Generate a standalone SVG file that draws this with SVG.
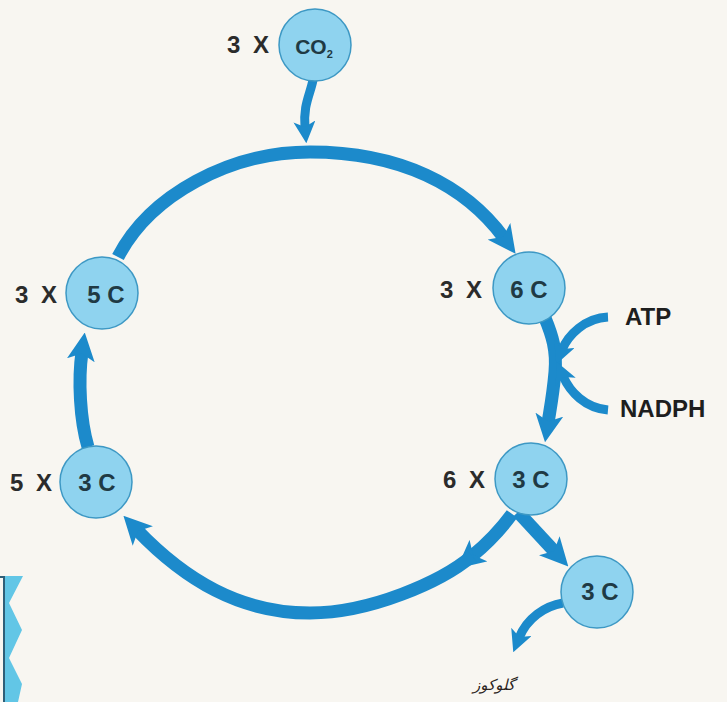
<svg xmlns="http://www.w3.org/2000/svg" width="727" height="702" viewBox="0 0 727 702">
<style>
.node{fill:#8fd3ef;stroke:#3d98c4;stroke-width:1.5}
.lbl{font-family:"Liberation Sans",Arial,sans-serif;font-weight:bold;font-size:24px;fill:#1f3a44;text-anchor:middle}
.mul{font-family:"Liberation Sans",Arial,sans-serif;font-weight:bold;font-size:24px;fill:#2b2b2b;letter-spacing:3px}
.side{font-family:"Liberation Sans",Arial,sans-serif;font-weight:bold;font-size:24px;fill:#1e1e1e}
.main{fill:none;stroke:#1c8acb;stroke-width:13}
.thin{fill:none;stroke:#1c8acb;stroke-width:9}
</style>
<defs>
<marker id="ah" viewBox="0 0 10 10" refX="3" refY="5" markerWidth="28" markerHeight="28" markerUnits="userSpaceOnUse" orient="auto">
<path d="M0,0 L10,5 L0,10 L2.5,5 z" fill="#1c8acb"/>
</marker>
<marker id="ahs" viewBox="0 0 10 10" refX="3" refY="5" markerWidth="22" markerHeight="22" markerUnits="userSpaceOnUse" orient="auto">
<path d="M0,0 L10,5 L0,10 L2.5,5 z" fill="#1c8acb"/>
</marker>
</defs>
<rect width="727" height="702" fill="#f8f6f1"/>
<g id="edge-fragment">
<polygon points="4,576 23,576 9,603 22,630 9,658 22,684 18,702 4,702" fill="#62c6e6"/>
<path d="M0,577 H4 V702" fill="none" stroke="#2f5f78" stroke-width="2"/>
</g>
<g id="connectors">
<path class="thin" d="M313 80 C310 95 303 105 305 128" marker-end="url(#ahs)"/>
<path class="main" d="M118 257 C150 195 230 152 310 152 C400 152 465 185 504 238" marker-end="url(#ah)"/>
<path class="main" d="M545 318 C552 335 557 350 555 372 C553 395 550 410 548 423" marker-end="url(#ah)"/>
<path class="thin" d="M608 317 C585 318 568 335 562 350" marker-end="url(#ahs)"/>
<path class="thin" d="M608 410 C585 408 570 392 563 376" marker-end="url(#ahs)"/>
<path class="main" d="M518 512 L555 552" marker-end="url(#ah)"/>
<path class="main" d="M512 514 Q495 537 472 556" marker-end="url(#ah)"/>
<path class="main" d="M472 556 C441 582 370 613 310 613 C240 613 185 580 137 530" marker-end="url(#ah)"/>
<path class="main" d="M88 447 C80 420 78 380 82 352" marker-end="url(#ah)"/>
<path class="thin" d="M563 603 C545 606 527 618 519 638" marker-end="url(#ahs)"/>
</g>
<g id="node-co2">
<circle class="node" cx="315" cy="45" r="36"/>
<text class="mul" x="227" y="53">3 X</text>
<text class="lbl" x="314" y="54" style="font-size:21px">CO<tspan style="font-size:11px" dy="4">2</tspan></text>
</g>
<g id="node-6c">
<circle class="node" cx="529" cy="288" r="36"/>
<text class="mul" x="440" y="298">3 X</text>
<text class="lbl" x="529" y="298">6 C</text>
</g>
<g id="node-5c">
<circle class="node" cx="102" cy="293" r="36"/>
<text class="mul" x="15" y="303">3 X</text>
<text class="lbl" x="106" y="303">5 C</text>
</g>
<g id="node-3c-right">
<circle class="node" cx="531" cy="479" r="36"/>
<text class="mul" x="443" y="488">6 X</text>
<text class="lbl" x="531" y="488">3 C</text>
</g>
<g id="node-3c-left">
<circle class="node" cx="96" cy="482" r="36"/>
<text class="mul" x="10" y="491">5 X</text>
<text class="lbl" x="97" y="491">3 C</text>
</g>
<g id="node-3c-out">
<circle class="node" cx="597" cy="592" r="36"/>
<text class="lbl" x="600" y="600">3 C</text>
</g>
<g id="node-atp">
<text class="side" x="625" y="325">ATP</text>
</g>
<g id="node-nadph">
<text class="side" x="620" y="417">NADPH</text>
</g>
<g id="node-glucose">
<text x="494" y="690" text-anchor="middle" style="font-family:'DejaVu Sans',sans-serif;font-size:15px;font-style:italic;fill:#2a2320">گلوکوز</text>
</g>
</svg>
